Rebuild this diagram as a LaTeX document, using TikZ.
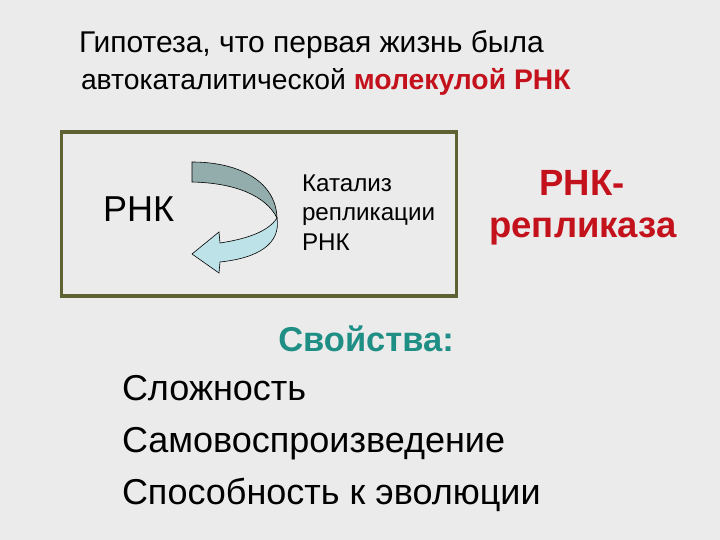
\documentclass[tikz,border=0pt]{standalone}
\usepackage{fontspec}
\setmainfont{Liberation Sans}
\definecolor{slidebg}{HTML}{EBEBEB}
\definecolor{boxline}{HTML}{5E6131}
\definecolor{rnared}{HTML}{C4121C}
\definecolor{tealtxt}{HTML}{1F8F86}
\definecolor{foldtop}{HTML}{93ADAD}
\definecolor{foldlow}{HTML}{BDE2E8}
\begin{document}
\begin{tikzpicture}[x=1pt, y=-1pt,
  every node/.style = {inner sep=0pt, outer sep=0pt, anchor=base west},
  headline/.style = {font=\fontsize{30}{34}\selectfont},
  inbox/.style = {font=\fontsize{24.2}{28}\selectfont},
  enzyme/.style = {anchor=base, text=rnared, font=\bfseries\fontsize{36.5}{42}\selectfont},
  listitem/.style = {font=\fontsize{36}{42}\selectfont}]
  \fill[slidebg] (0,0) rectangle (720,540);
  \useasboundingbox (0,0) rectangle (720,540);
  \node[headline] (hyp1) at (79,53) {Гипотеза, что первая жизнь была};
  \node[headline, font=\fontsize{28.3}{34}\selectfont] (hyp2) at (81,90) {автокаталитической {\bfseries\color{rnared}молекулой РНК}};
  \draw[boxline, line width=3.5pt] (61.5,132) rectangle (456.5,296);
  \node[font=\fontsize{36}{40}\selectfont] (rna) at (103,222) {РНК};
  \filldraw[fill=foldtop, draw=black, line width=0.6pt]
    (192,162) .. controls (240,162) and (276,182) .. (277,218)
    .. controls (266,196) and (236,183) .. (192,182) -- cycle;
  \filldraw[fill=foldlow, draw=black, line width=0.6pt]
    (277,218) .. controls (268,232) and (246,239) .. (220,243)
    -- (219,232) -- (192,254) -- (219,273) -- (220,262)
    .. controls (258,258) and (281,244) .. (277,218) -- cycle;
  \node[inbox] (cat1) at (302,192) {Катализ};
  \node[inbox] (cat2) at (302,221) {репликации};
  \node[inbox] (cat3) at (302,250) {РНК};
  \node[enzyme] (enz1) at (582,196) {РНК-};
  \node[enzyme] (enz2) at (583,237) {репликаза};
  \node[anchor=base, text=tealtxt, font=\bfseries\fontsize{34.5}{38}\selectfont] (props) at (366,351) {Свойства:};
  \node[listitem] (prop1) at (122,400) {Сложность};
  \node[listitem] (prop2) at (122,452) {Самовоспроизведение};
  \node[listitem] (prop3) at (122,504) {Способность к эволюции};
\end{tikzpicture}
\end{document}
